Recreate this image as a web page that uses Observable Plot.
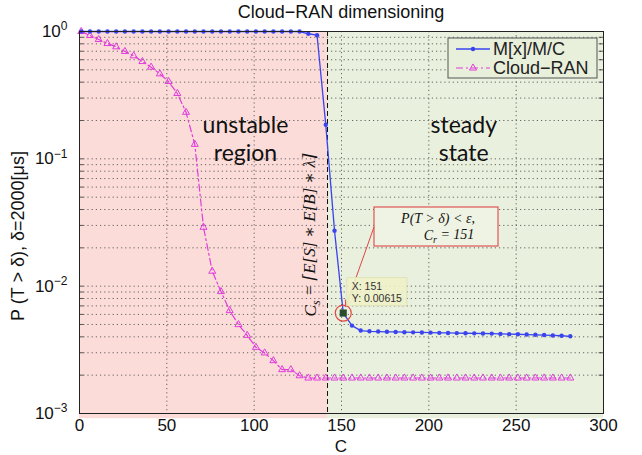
<!DOCTYPE html>
<html><head><meta charset="utf-8">
<script src="https://cdn.jsdelivr.net/npm/d3@7"></script>
<script src="https://cdn.jsdelivr.net/npm/@observablehq/plot@0.6"></script>
<style>body{margin:0;background:#fff;} svg{display:block;}</style>
</head><body><div id="chart"></div>
<script>
// ---- data ----
const C = [1,6,11,16,21,26,31,36,41,46,51,56,61,66,71,76,81,86,91,96,101,106,111,116,121,126,131,136,141,146,151,156,161,166,171,176,181,186,191,196,201,206,211,216,221,226,231,236,241,246,251,256,261,266,271,276,281];
const mmc = [1,1,1,1,1,1,1,1,1,1,1,1,1,1,1,1,1,1,1,1,1,1,1,1,1,1,0.96,0.935,0.185,0.0273,0.00615,0.0049,0.00448,0.00442,0.0044,0.00438,0.00437,0.00435,0.00434,0.00433,0.00432,0.0043,0.00429,0.00428,0.00427,0.00426,0.00425,0.00424,0.00422,0.0042,0.00419,0.00417,0.00415,0.00413,0.0041,0.00408,0.00404];
const cran = [1,0.93,0.865,0.805,0.758,0.697,0.644,0.581,0.525,0.465,0.405,0.326,0.232,0.13,0.029,0.0131,0.00907,0.00643,0.00499,0.00411,0.00331,0.00299,0.0026,0.00221,0.00221,0.00198,0.0019,0.0019,0.0019,0.0019,0.0019,0.0019,0.0019,0.0019,0.0019,0.0019,0.0019,0.0019,0.0019,0.0019,0.0019,0.0019,0.0019,0.0019,0.0019,0.0019,0.0019,0.0019,0.0019,0.0019,0.0019,0.0019,0.0019,0.0019,0.0019,0.0019,0.0019];
const seriesNames = ["M[x]/M/C", "Cloud−RAN"];
const xTicks = [0,50,100,150,200,250,300];
const yTicks = [1,0.1,0.01,0.001];
const yTickExp = ["0","−1","−2","−3"];
const Cs = 142;
const regionNames = ["unstable\nregion", "steady\nstate"];
const regionStart = [0, Cs];
const regionEnd = [Cs, 300];
const regionColors = ["#fcdcd9", "#e9f0dd"];
const regionLabelX = [95, 220];
const regionLabelY = [0.145, 0.145];
const marked = {C: 151, p: 0.00615};
const titleText = "Cloud−RAN dimensioning";
const xLabel = "C";
const yLabel = "P (T > δ), δ=2000[μs]";

// ---- derived tables ----
const blueData = C.map((c,i)=>({C:c, p:mmc[i]}));
const pinkData = C.map((c,i)=>({C:c, p:cran[i]}));
const regions = regionNames.map((n,i)=>({label:n, x1:regionStart[i], x2:regionEnd[i], fill:regionColors[i], lx:regionLabelX[i], ly:regionLabelY[i]}));
const minorGrid = [];
[0.001,0.01,0.1].forEach(d=>{for(let k=1;k<=9;k++) minorGrid.push(d*k);});
minorGrid.push(1);

const BLUE = "#3a44ee", PINK = "#e03ddc";
const gridStyle = {stroke:"#555", strokeDasharray:"1.2,3", strokeWidth:0.9};

const chart = Plot.plot({
  width: 642, height: 455,
  marginLeft: 79, marginRight: 39, marginTop: 31, marginBottom: 42,
  style: {fontFamily: "'Liberation Sans', Arial, sans-serif", fontSize: "17px", background: "white", overflow: "visible", color:"#111"},
  color: {type: "identity"},
  x: {domain: [0,300], ticks: xTicks, tickSize: 0, tickPadding: 5, label: null},
  y: {type: "log", domain: [0.001, 1], ticks: yTicks, tickSize: 0, tickPadding: 12, label: null,
      tickFormat: d => "10^" + yTickExp[yTicks.indexOf(d)]},
  marks: [
    Plot.rect(regions, {x1:"x1", x2:"x2", y1: 0.00091, y2: 1, fill:"fill"}),
    Plot.ruleY(minorGrid, gridStyle),
    Plot.ruleX(xTicks.slice(1,-1), gridStyle),
    Plot.ruleY(minorGrid, {x1:0, x2:2.5, stroke:"#333", strokeWidth:0.8}),
    Plot.ruleY(minorGrid, {x1:297.5, x2:300, stroke:"#333", strokeWidth:0.8}),
    Plot.ruleX([Cs], {stroke:"#111", strokeDasharray:"5,3", strokeWidth:1}),
    Plot.text(regions, {x:"lx", y:"ly", text:"label", fontSize:23, lineHeight:1.2, fontFamily:"Lato, 'Open Sans', sans-serif", fill:"#111"}),
    Plot.line(pinkData, {x:"C", y:"p", stroke:PINK, strokeWidth:1.2, strokeDasharray:"7,3,2,3"}),
    Plot.dot(pinkData, {x:"C", y:"p", symbol:"triangle", r:2.6, stroke:PINK, strokeWidth:1, fill:"none"}),
    Plot.line(blueData, {x:"C", y:"p", stroke:BLUE, strokeWidth:1.3}),
    Plot.dot(blueData, {x:"C", y:"p", r:2.2, fill:BLUE, stroke:null}),
    Plot.dot([marked], {x:"C", y:"p", symbol:"square", r:4, fill:"#2c4a2c"}),
    Plot.dot([marked], {x:"C", y:"p", r:8, stroke:"#e04545", strokeWidth:1.2, fill:"none"}),
    Plot.frame({stroke:"#222", strokeWidth:1})
  ]
});
document.getElementById("chart").appendChild(chart);

const svg = d3.select(chart);
const sx = chart.scale("x"), sy = chart.scale("y");
const X = v => sx.apply(v), Y = v => sy.apply(v);

// superscript tick labels
svg.selectAll('g[aria-label="y-axis tick label"] text').each(function(){
  const t = d3.select(this);
  const parts = t.text().split("^");
  t.text(parts[0]);
  t.append("tspan").attr("dy","-0.55em").attr("font-size","12px").text(parts[1]);
});

// title & axis labels
svg.append("text").attr("x", (X(0)+X(300))/2).attr("y", 18).attr("text-anchor","middle")
  .attr("font-size","18px").attr("fill","#111").text(titleText);
svg.append("text").attr("x", X(150)).attr("y", 452).attr("text-anchor","middle")
  .attr("font-size","17px").attr("fill","#111").text(xLabel);
svg.append("text").attr("transform","translate(24,236) rotate(-90)").attr("text-anchor","middle")
  .attr("font-size","18px").attr("fill","#111").text(yLabel);

// rotated Cs formula
const cs = svg.append("text").attr("transform", `translate(${X(Cs)-11},235) rotate(-90)`)
  .attr("text-anchor","middle").attr("font-family","'Liberation Serif', 'DejaVu Serif', serif")
  .attr("font-style","italic").attr("font-size","17px").attr("fill","#111");
cs.append("tspan").text("C");
cs.append("tspan").attr("dy","0.3em").attr("font-size","12px").text("s");
cs.append("tspan").attr("dy","-0.3em").text(" = ⌈E[S] ∗ E[B] ∗ λ⌉");

// annotation box with arrow
const bx = 374, by = 207, bw = 124, bh = 39;
svg.append("rect").attr("x",bx).attr("y",by).attr("width",bw).attr("height",bh)
  .attr("fill","#eef3e4").attr("stroke","#e05555").attr("stroke-width",1.2);
const a1 = svg.append("text").attr("x", 438).attr("y", 223).attr("text-anchor","middle")
  .attr("font-family","'Liberation Serif', serif").attr("font-style","italic").attr("font-size","14px").attr("fill","#111");
a1.text("P(T > δ) < ε,");
const a2 = svg.append("text").attr("x", 449).attr("y", 240).attr("text-anchor","middle")
  .attr("font-family","'Liberation Serif', serif").attr("font-style","italic").attr("font-size","14px").attr("fill","#111");
a2.append("tspan").text("C");
a2.append("tspan").attr("dy","0.3em").attr("font-size","10px").text("r");
a2.append("tspan").attr("dy","-0.3em").text(" = " + marked.C);
// arrow
const ax0 = bx, ay0 = 227, ax1 = X(marked.C)+3, ay1 = Y(marked.p)-6;
svg.append("line").attr("x1",ax0).attr("y1",ay0).attr("x2",ax1).attr("y2",ay1).attr("stroke","#e04545").attr("stroke-width",1);
const ang = Math.atan2(ay1-ay0, ax1-ax0);
const hl = 7, hw = 0.4;
svg.append("path").attr("d", `M${ax1},${ay1} L${ax1-hl*Math.cos(ang-hw)},${ay1-hl*Math.sin(ang-hw)} M${ax1},${ay1} L${ax1-hl*Math.cos(ang+hw)},${ay1-hl*Math.sin(ang+hw)}`)
  .attr("stroke","#e04545").attr("stroke-width",1).attr("fill","none");

// datatip
const tx = X(marked.C)+4, ty = Y(marked.p)-35;
svg.append("rect").attr("x",tx).attr("y",ty).attr("width",60).attr("height",28)
  .attr("fill","#eef1c8").attr("fill-opacity",0.9).attr("stroke","#dfe3b8");
svg.append("text").attr("x",tx+5).attr("y",ty+12).attr("text-anchor","start").attr("font-size","10.5px").attr("fill","#333").text("X: " + marked.C);
svg.append("text").attr("x",tx+5).attr("y",ty+24).attr("text-anchor","start").attr("font-size","10.5px").attr("fill","#333").text("Y: " + marked.p);

// legend
const lg = svg.append("g").attr("text-anchor","start");
lg.append("rect").attr("x",448).attr("y",38).attr("width",149).attr("height",40)
  .attr("fill","#e8efdb").attr("stroke","#555").attr("stroke-width",1);
lg.append("line").attr("x1",456).attr("x2",490).attr("y1",49).attr("y2",49).attr("stroke",BLUE).attr("stroke-width",1.3);
lg.append("circle").attr("cx",473).attr("cy",49).attr("r",2.2).attr("fill",BLUE);
lg.append("text").attr("x",493).attr("y",55).attr("font-size","18px").attr("fill","#222").text(seriesNames[0]);
lg.append("line").attr("x1",456).attr("x2",490).attr("y1",68).attr("y2",68).attr("stroke",PINK).attr("stroke-width",1.2).attr("stroke-dasharray","7,3,2,3");
lg.append("path").attr("transform","translate(473,68)").attr("d", d3.symbol(d3.symbolTriangle, 2.6*2.6*Math.PI)()).attr("fill","none").attr("stroke",PINK);
lg.append("text").attr("x",493).attr("y",74).attr("font-size","18px").attr("fill","#222").text(seriesNames[1]);
</script>
</body></html>
